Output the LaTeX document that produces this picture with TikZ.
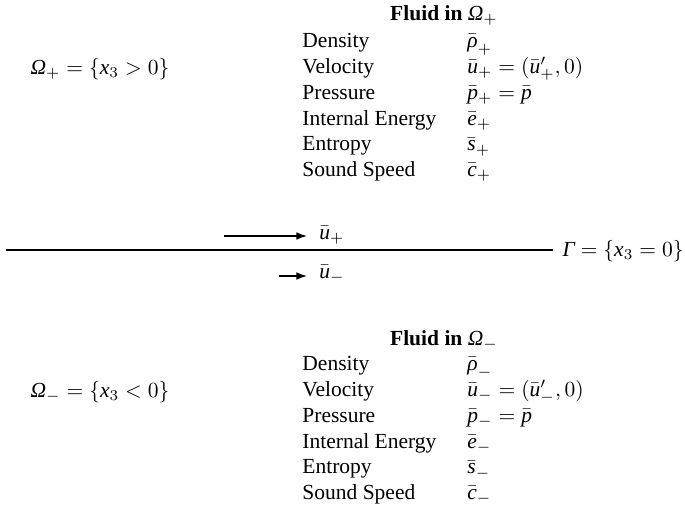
\documentclass[tikz,border=0pt]{standalone}
\usepackage{fontspec}
\setmainfont{Liberation Serif}
\usetikzlibrary{arrows.meta}
\newcommand{\itOmega}{\textit{Ω}}
\newcommand{\itGamma}{\textit{Γ}}
\newcommand{\itrho}{\textit{ρ}}

\begin{document}
\begin{tikzpicture}[x=0.465pt, y=-0.465pt, font=\fontsize{10}{12}\selectfont,
  txt/.style={anchor=base west, inner sep=0pt},
  flow/.style={-{Latex[length=5pt, width=3.6pt]}, line width=0.75pt}]
\useasboundingbox (0,0) rectangle (685,512);
\pgfmathsetmacro{\Lcol}{302}
\pgfmathsetmacro{\Rcol}{467}
\pgfmathsetmacro{\Dy}{25.8}

% upper fluid
\node [anchor=base, inner sep=0pt] (Hplus) at (444,20) {\textbf{Fluid in} $\itOmega_+$};
\foreach \lab/\sym [count=\i] in {Density/{\bar{\itrho}_+},
    Velocity/{\bar{\mathit{u}}_+ = (\bar{\mathit{u}}'_+,0)},
    Pressure/{\bar{\mathit{p}}_+ = \bar{\mathit{p}}},
    Internal Energy/{\bar{\mathit{e}}_+},
    Entropy/{\bar{\mathit{s}}_+},
    Sound Speed/{\bar{\mathit{c}}_+}}
{
\node [txt] (Lp\i) at (\Lcol, 47.7 + \Dy*\i - \Dy) {\lab};
\node [txt] (Rp\i) at (\Rcol, 47.7 + \Dy*\i - \Dy) {$\sym$};
}
\node [anchor=base, inner sep=0pt] (Oplus) at (100,74) {$\itOmega_+ = \{\mathit{x}_3 > 0\}$};

% interface
\coordinate (gL) at (6,250);
\coordinate (gR) at (553,250);
\draw [line width=0.8pt] (gL) -- (gR);
\node [anchor=base east, inner sep=0pt] (Gam) at (684,256) {$\itGamma = \{\mathit{x}_3 = 0\}$};

\node [txt] (uplus) at (319,239) {$\bar{\mathit{u}}_+$};
\node [txt] (uminus) at (319,278) {$\bar{\mathit{u}}_-$};
\coordinate (a1) at (224,236);
\coordinate (a2) at (279,276);
\draw [flow] (a1) -- ([xshift=-5.5pt]a1 -| uplus.west);
\draw [flow] (a2) -- ([xshift=-5.5pt]a2 -| uminus.west);

% lower fluid
\node [anchor=base, inner sep=0pt] (Hminus) at (444,345) {\textbf{Fluid in} $\itOmega_-$};
\foreach \lab/\sym [count=\i] in {Density/{\bar{\itrho}_-},
    Velocity/{\bar{\mathit{u}}_- = (\bar{\mathit{u}}'_-,0)},
    Pressure/{\bar{\mathit{p}}_- = \bar{\mathit{p}}},
    Internal Energy/{\bar{\mathit{e}}_-},
    Entropy/{\bar{\mathit{s}}_-},
    Sound Speed/{\bar{\mathit{c}}_-}}
{
\node [txt] (Lm\i) at (\Lcol, 370.7 + \Dy*\i - \Dy) {\lab};
\node [txt] (Rm\i) at (\Rcol, 370.7 + \Dy*\i - \Dy) {$\sym$};
}
\node [anchor=base, inner sep=0pt] (Ominus) at (100,397) {$\itOmega_- = \{\mathit{x}_3 < 0\}$};
\end{tikzpicture}
\end{document}
